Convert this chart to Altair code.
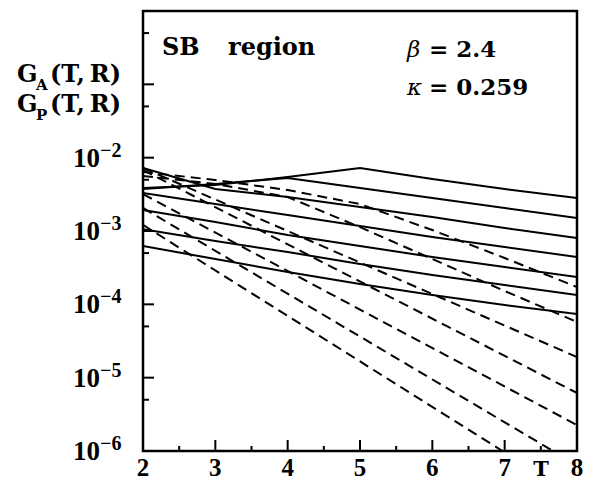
import altair as alt
import pandas as pd

# ---------------- data ----------------
T = [2, 3, 4, 5, 6, 7, 8]

# G_A(T,R) : solid curves
solid = {
    "A1": [3.86e-3, 4.24e-3, 5.45e-3, 7.23e-3, 5.12e-3, 3.74e-3, 2.82e-3],
    "A2": [3.74e-3, 4.38e-3, 5.28e-3, 3.86e-3, 2.82e-3, 2.06e-3, 1.50e-3],
    "A3": [7.23e-3, 3.74e-3, 2.91e-3, 2.12e-3, 1.55e-3, 1.10e-3, 8.02e-4],
    "A4": [3.30e-3, 2.33e-3, 1.65e-3, 1.17e-3, 8.28e-4, 6.05e-4, 4.42e-4],
    "A5": [1.93e-3, 1.33e-3, 8.81e-4, 6.24e-4, 4.42e-4, 3.23e-4, 2.36e-4],
    "A6": [1.06e-3, 7.30e-4, 5.17e-4, 3.55e-4, 2.51e-4, 1.83e-4, 1.34e-4],
    "A7": [6.24e-4, 4.15e-4, 2.76e-4, 1.89e-4, 1.34e-4, 9.79e-5, 7.38e-5],
}

# G_P(T,R) : dashed curves (T points, values)
dashed_T = {
    "P1": [2, 3, 4, 5, 6, 7, 8],
    "P2": [2, 3, 4, 5, 6, 7, 8],
    "P3": [2, 8],
    "P4": [2, 8],
    "P5": [2, 8],
    "P6": [2, 7.67],
    "P7": [2, 6.97],
}
dashed_v = {
    "P1": [6.37e-3, 4.96e-3, 3.62e-3, 2.33e-3, 1.03e-3, 4.28e-4, 1.72e-4],
    "P2": [5.62e-3, 4.38e-3, 2.91e-3, 1.13e-3, 4.15e-4, 1.52e-4, 5.74e-5],
    "P3": [7.23e-3, 1.91e-5],
    "P4": [6.79e-3, 6.18e-6],
    "P5": [3.19e-3, 2.26e-6],
    "P6": [2.06e-3, 1.0e-6],
    "P7": [1.21e-3, 1.0e-6],
}

y_major = [1e-6, 1e-5, 1e-4, 1e-3, 1e-2, 1e-1, 1e0]
y_minor = [5e-6, 5e-5, 5e-4, 5e-3, 5e-2, 5e-1]
x_major = [2, 3, 4, 5, 6, 7, 8]
x_minor = [2.5, 3.5, 4.5, 5.5, 6.5, 7.5]
y_label_vals = [1e-2, 1e-3, 1e-4, 1e-5, 1e-6]
y_label_exp = ["\u22122", "\u22123", "\u22124", "\u22125", "\u22126"]

# ---------------- tables ----------------
rows = []
for k, vals in solid.items():
    for t, v in zip(T, vals):
        rows.append({"series": k, "T": t, "G": v})
df_solid = pd.DataFrame(rows)

rows = []
for k in dashed_T:
    for t, v in zip(dashed_T[k], dashed_v[k]):
        rows.append({"series": k, "T": t, "G": v})
df_dash = pd.DataFrame(rows)

W, H = 434, 440
xs = alt.Scale(domain=[2, 8], nice=False, zero=False)
ys = alt.Scale(type="log", domain=[1e-6, 1], nice=False)

X = alt.X("T:Q", scale=xs, axis=None)
Y = alt.Y("G:Q", scale=ys, axis=None)

solid_layer = alt.Chart(df_solid).mark_line(color="black", strokeWidth=2, clip=True).encode(
    x=X, y=Y, detail="series:N")
dash_layer = alt.Chart(df_dash).mark_line(color="black", strokeWidth=2, clip=True,
                                          strokeDash=[10, 6]).encode(
    x=X, y=Y, detail="series:N")

ymaj = alt.Chart(pd.DataFrame({"G": y_major})).mark_rule(color="black", strokeWidth=2).encode(
    y=Y, x=alt.value(0), x2=alt.value(11))
ymin = alt.Chart(pd.DataFrame({"G": y_minor})).mark_rule(color="black", strokeWidth=2).encode(
    y=Y, x=alt.value(0), x2=alt.value(6))
xmaj = alt.Chart(pd.DataFrame({"T": x_major})).mark_rule(color="black", strokeWidth=2).encode(
    x=X, y=alt.value(H), y2=alt.value(H - 11))
xmin = alt.Chart(pd.DataFrame({"T": x_minor})).mark_rule(color="black", strokeWidth=2).encode(
    x=X, y=alt.value(H), y2=alt.value(H - 5))

NUMFONT = "Liberation Serif"
TXTFONT = "DejaVu Serif"

ylab_df = pd.DataFrame({"G": y_label_vals, "ten": ["10"] * 5, "exp": y_label_exp})
ylab10 = alt.Chart(ylab_df).mark_text(font=NUMFONT, fontWeight="bold", fontSize=27,
                                      align="right", baseline="alphabetic", dy=9).encode(
    y=Y, x=alt.value(-43), text="ten:N")
ylabexp = alt.Chart(ylab_df).mark_text(font=NUMFONT, fontWeight="bold", fontSize=20,
                                       align="left", baseline="alphabetic", dy=-1).encode(
    y=Y, x=alt.value(-43), text="exp:N")

xlab_df = pd.DataFrame({"T": x_major, "lab": [str(v) for v in x_major]})
xlab = alt.Chart(xlab_df).mark_text(font=NUMFONT, fontWeight="bold", fontSize=25,
                                    align="center", baseline="alphabetic").encode(
    x=X, y=alt.value(H + 25), text="lab:N")

one = pd.DataFrame({"a": [0]})


def txt(s, x, y, size, font=TXTFONT, weight="bold", style="normal", align="left"):
    return alt.Chart(one).mark_text(font=font, fontWeight=weight, fontStyle=style,
                                    fontSize=size, align=align, baseline="alphabetic").encode(
        x=alt.value(x), y=alt.value(y), text=alt.value(s))


texts = [
    txt("T", 398, H + 25, 21, align="center"),
    txt("SB", 19, 44, 24),
    txt("region", 85, 44, 24),
    txt("\u03b2", 264, 46, 23, weight="normal", style="italic"),
    txt("= 2.4", 286, 46, 23),
    txt("\u03ba", 264, 84, 23, weight="normal", style="italic"),
    txt("= 0.259", 286, 84, 23),
    txt("G", -126, 71, 24),
    txt("A", -107, 79, 15),
    txt("(T,\u2009R)", -93, 71, 24),
    txt("G", -126, 101, 24),
    txt("P", -107, 109, 15),
    txt("(T,\u2009R)", -93, 101, 24),
]

chart = alt.layer(solid_layer, dash_layer, ymaj, ymin, xmaj, xmin, ylab10, ylabexp, xlab,
                  *texts).properties(
    width=W, height=H,
    padding={"left": 143, "top": 11, "right": 16, "bottom": 30},
    autosize=alt.AutoSizeParams(type="none"),
    background="white",
).configure_view(stroke="black", strokeWidth=2.5)

chart.save("out.html", embed_options={"renderer": "svg", "actions": False})
